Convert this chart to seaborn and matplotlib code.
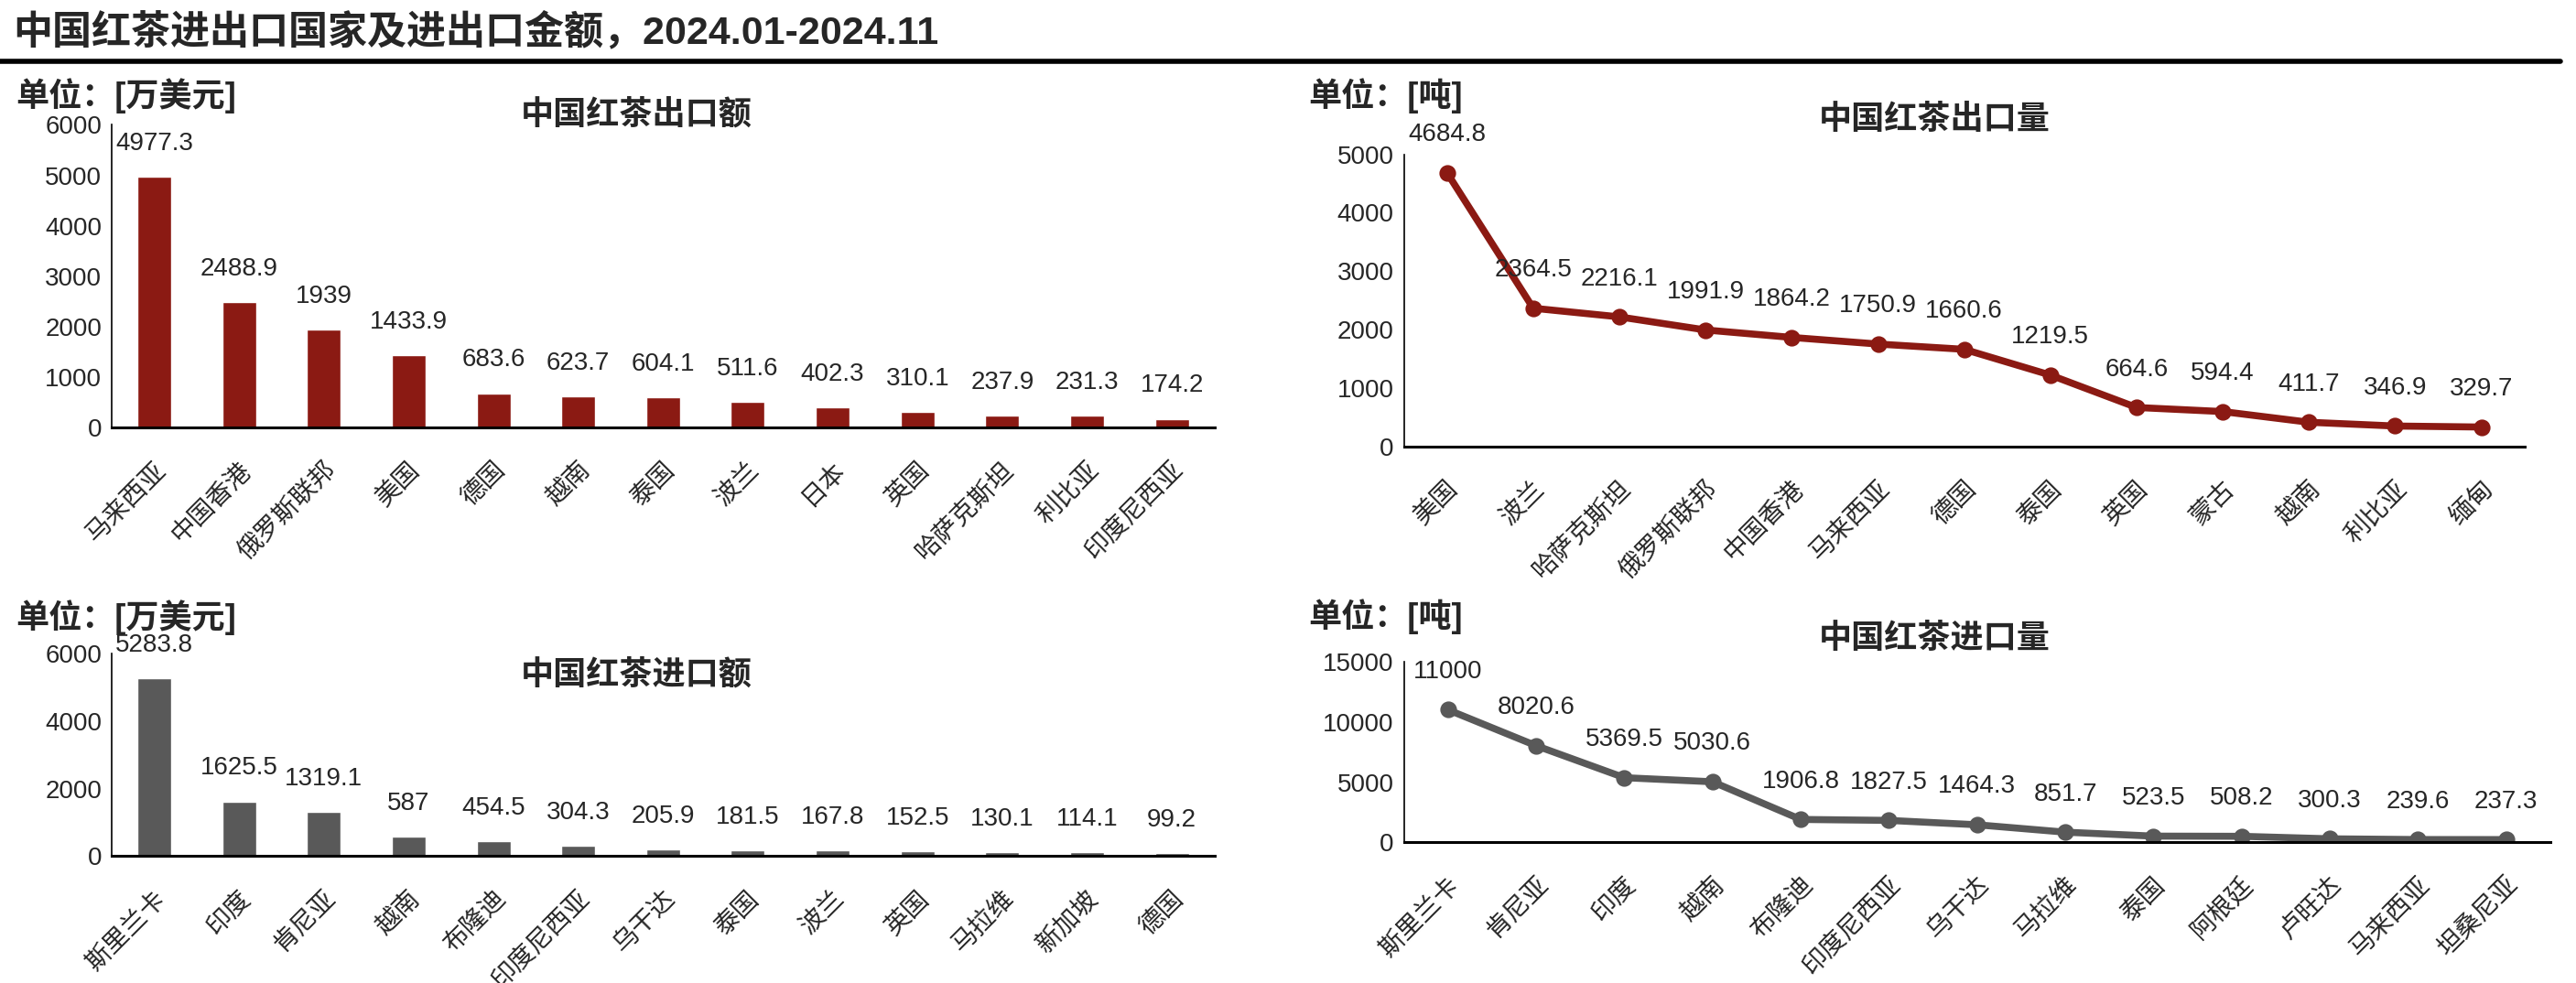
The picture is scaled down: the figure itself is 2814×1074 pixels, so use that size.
import numpy as np
import matplotlib
matplotlib.use("Agg")
import matplotlib.pyplot as plt
import seaborn as sns


export_value_countries = ["马来西亚", "中国香港", "俄罗斯联邦", "美国", "德国", "越南", "泰国",
                          "波兰", "日本", "英国", "哈萨克斯坦", "利比亚", "印度尼西亚"]
export_value = [4977.3, 2488.9, 1939, 1433.9, 683.6, 623.7, 604.1, 511.6, 402.3, 310.1, 237.9, 231.3, 174.2]

export_volume_countries = ["美国", "波兰", "哈萨克斯坦", "俄罗斯联邦", "中国香港", "马来西亚", "德国",
                           "泰国", "英国", "蒙古", "越南", "利比亚", "缅甸"]
export_volume = [4684.8, 2364.5, 2216.1, 1991.9, 1864.2, 1750.9, 1660.6, 1219.5, 664.6, 594.4, 411.7, 346.9, 329.7]

import_value_countries = ["斯里兰卡", "印度", "肯尼亚", "越南", "布隆迪", "印度尼西亚", "乌干达",
                          "泰国", "波兰", "英国", "马拉维", "新加坡", "德国"]
import_value = [5283.8, 1625.5, 1319.1, 587, 454.5, 304.3, 205.9, 181.5, 167.8, 152.5, 130.1, 114.1, 99.2]

import_volume_countries = ["斯里兰卡", "肯尼亚", "印度", "越南", "布隆迪", "印度尼西亚", "乌干达",
                           "马拉维", "泰国", "阿根廷", "卢旺达", "马来西亚", "坦桑尼亚"]
import_volume = [11000, 8020.6, 5369.5, 5030.6, 1906.8, 1827.5, 1464.3, 851.7, 523.5, 508.2, 300.3, 239.6, 237.3]

RED = "#8B1A13"
GREY = "#595959"
FS = 20


def style_axis(ax, labels, ymax, step):
	n = len(labels)
	ax.set_xlim(-0.5, n - 0.5)
	ax.set_ylim(0, ymax)
	ax.set_yticks(np.arange(0, ymax + 1, step))
	ax.set_xticks(np.arange(-0.5, n, 1))
	ax.set_xticklabels([])
	ax.set_xticks(np.arange(n), minor=True)
	ax.set_xticklabels(labels, minor=True, rotation=45, ha="right", va="top",
	                   rotation_mode="anchor")
	ax.tick_params(axis="x", which="major", length=10, width=1.2, direction="out")
	ax.tick_params(axis="x", which="minor", length=0, labelsize=FS, pad=24)
	ax.tick_params(axis="y", length=5, width=1.2, labelsize=FS, pad=3)
	ax.set_xlabel("")
	ax.set_ylabel("")
	for side in ["top", "right"]:
		ax.spines[side].set_visible(False)
	ax.spines["left"].set_linewidth(1.2)
	ax.spines["bottom"].set_linewidth(2.2)
	ax.spines["left"].set_color("black")
	ax.spines["bottom"].set_color("black")


def bar_panel(ax, labels, values, color, ymax, step):
	sns.barplot(x=labels, y=values, color=color, width=0.4, saturation=1, ax=ax)
	for i, v in enumerate(values):
		ax.annotate(f"{v:g}", (i, v), xytext=(0, 26), textcoords="offset points",
		            ha="center", va="center", fontsize=FS)
	style_axis(ax, labels, ymax, step)


def line_panel(ax, labels, values, color, ymax, step):
	sns.pointplot(x=labels, y=values, color=color, markers="o", markersize=9,
	              linewidth=5.5, errorbar=None, ax=ax)
	for i, v in enumerate(values):
		ax.annotate(f"{v:g}", (i, v), xytext=(0, 30), textcoords="offset points",
		            ha="center", va="center", fontsize=FS)
	style_axis(ax, labels, ymax, step)


def main():
	sns.set_style("white")
	plt.rcParams["font.family"] = ["Liberation Sans", "Noto Sans CJK SC"]
	plt.rcParams["axes.unicode_minus"] = False
	fig = plt.figure(figsize=(28.14, 10.74), dpi=100)

	ax1 = fig.add_axes([0.0434, 0.565, 0.428, 0.308])
	ax2 = fig.add_axes([0.545, 0.546, 0.435, 0.297])
	ax3 = fig.add_axes([0.0434, 0.129, 0.428, 0.206])
	ax4 = fig.add_axes([0.545, 0.143, 0.445, 0.184])

	bar_panel(ax1, export_value_countries, export_value, RED, 6000, 1000)
	line_panel(ax2, export_volume_countries, export_volume, RED, 5000, 1000)
	bar_panel(ax3, import_value_countries, import_value, GREY, 6000, 2000)
	line_panel(ax4, import_volume_countries, import_volume, GREY, 15000, 5000)

	fig.text(0.005, 0.966, "中国红茶进出口国家及进出口金额，2024.01-2024.11",
	         fontsize=31, fontweight="bold", ha="left", va="center")
	fig.add_artist(plt.Line2D([0, 0.994], [0.938, 0.938], color="black", linewidth=4,
	                          transform=fig.transFigure))

	fig.text(0.006, 0.903, "单位：[万美元]", fontsize=26, fontweight="bold", va="center")
	fig.text(0.247, 0.883, "中国红茶出口额", fontsize=26, fontweight="bold", ha="center", va="center")
	fig.text(0.508, 0.903, "单位：[吨]", fontsize=26, fontweight="bold", va="center")
	fig.text(0.751, 0.878, "中国红茶出口量", fontsize=26, fontweight="bold", ha="center", va="center")
	fig.text(0.006, 0.372, "单位：[万美元]", fontsize=26, fontweight="bold", va="center")
	fig.text(0.247, 0.313, "中国红茶进口额", fontsize=26, fontweight="bold", ha="center", va="center")
	fig.text(0.508, 0.373, "单位：[吨]", fontsize=26, fontweight="bold", va="center")
	fig.text(0.751, 0.350, "中国红茶进口量", fontsize=26, fontweight="bold", ha="center", va="center")

	fig.savefig("out.png", dpi=100)


if __name__ == "__main__":
	main()
